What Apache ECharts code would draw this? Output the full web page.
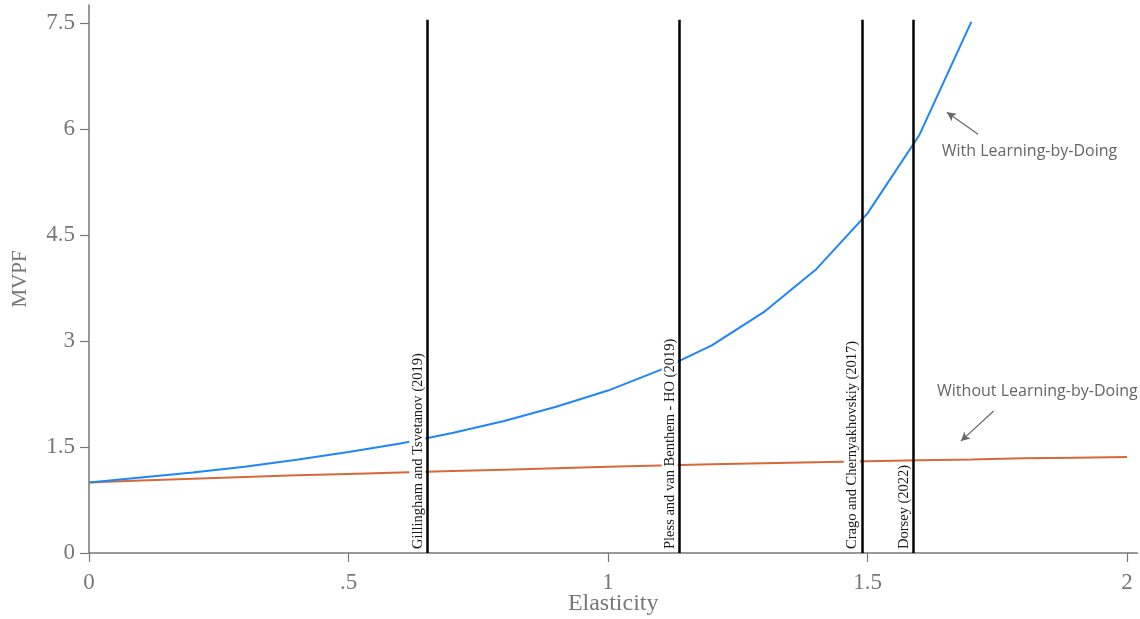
<!DOCTYPE html>
<html><head><meta charset="utf-8">
<script src="https://cdn.jsdelivr.net/npm/echarts@6/dist/echarts.min.js"></script>
<style>html,body{margin:0;padding:0;background:#fff}#c{width:1140px;height:619px}</style>
</head><body><div id="c"></div>
<script>
const elasticity = [0,0.1,0.2,0.3,0.4,0.5,0.6,0.7,0.8,0.9,1.0,1.1,1.2,1.3,1.4,1.5,1.6,1.7];
const mvpfWithLBD = [1.0,1.07,1.14,1.22,1.32,1.43,1.55,1.70,1.87,2.07,2.30,2.59,2.94,3.41,4.01,4.81,5.92,7.52];
const elasticityNoLBD = [0,0.1,0.2,0.3,0.4,0.5,0.6,0.7,0.8,0.9,1.0,1.1,1.2,1.3,1.4,1.5,1.6,1.7,1.8,1.9,2.0];
const mvpfWithoutLBD = [1.0,1.025,1.05,1.075,1.10,1.12,1.14,1.16,1.18,1.20,1.22,1.24,1.255,1.27,1.285,1.30,1.315,1.325,1.34,1.35,1.36];
const studyNames = ['Gillingham and Tsvetanov (2019)','Pless and van Benthem - HO (2019)','Crago and Chernyakhovskiy (2017)','Dorsey (2022)'];
const studyElasticities = [0.652, 1.138, 1.489, 1.589];
const xTicks = [0,0.5,1,1.5,2];
const xTickLabels = ['0','.5','1','1.5','2'];
const yTicks = [0,1.5,3,4.5,6,7.5];
const yTickLabels = ['0','1.5','3','4.5','6','7.5'];
const studyLineTop = 7.55;
const annotations = [
  {text:'With Learning-by-Doing', at:[1.643,5.69], from:[1.713,5.93], to:[1.653,6.24]},
  {text:'Without Learning-by-Doing', at:[1.634,2.29], from:[1.743,2.01], to:[1.680,1.585]}
];

const serif = '"Liberation Serif", "DejaVu Serif", serif';
const grey = '#777';
const chart = echarts.init(document.getElementById('c'));
chart.setOption({
  animation:false,
  grid:{left:89,right:2.6,top:5,bottom:66,containLabel:false,outerBoundsMode:'none'},
  xAxis:{type:'value',min:0,max:2.02,
    name:'Elasticity',nameLocation:'middle',nameGap:51,nameMoveOverlap:false,
    nameTextStyle:{fontFamily:serif,fontSize:24,color:grey,verticalAlign:'middle'},
    axisLine:{show:true,lineStyle:{color:grey,width:1.5}},
    axisTick:{show:true,length:9,lineStyle:{color:grey,width:1.2},customValues:xTicks},
    axisLabel:{customValues:xTicks,margin:18,fontFamily:serif,fontSize:23,color:grey,
      formatter:v=>{const i=xTicks.findIndex(t=>Math.abs(t-v)<1e-9);return i>=0?xTickLabels[i]:'';}},
    splitLine:{show:false}},
  yAxis:{type:'value',min:0,max:7.76,
    name:'MVPF',nameLocation:'middle',nameGap:58,
    nameTextStyle:{fontFamily:serif,fontSize:21,color:grey},
    axisLine:{show:true,lineStyle:{color:grey,width:1.5}},
    axisTick:{show:true,length:9,lineStyle:{color:grey,width:1.2},customValues:yTicks},
    axisLabel:{customValues:yTicks,margin:14,fontFamily:serif,fontSize:23,color:grey,
      formatter:v=>{const i=yTicks.findIndex(t=>Math.abs(t-v)<1e-9);return i>=0?yTickLabels[i]:'';}},
    splitLine:{show:false}},
  series:[
    {type:'line',name:'Without',data:elasticityNoLBD.map((x,i)=>[x,mvpfWithoutLBD[i]]),
      showSymbol:false,lineStyle:{color:'#D5693C',width:2},z:2},
    {type:'line',name:'With',data:elasticity.map((x,i)=>[x,mvpfWithLBD[i]]),
      showSymbol:false,lineStyle:{color:'#1E86FA',width:2},z:3},
    {type:'line',name:'studies',data:[],z:10,
      markLine:{silent:true,symbol:['none','none'],animation:false,
        lineStyle:{color:'#000',width:2.5,type:'solid'},
        data:studyNames.map((n,i)=>[
          {coord:[studyElasticities[i],0],
           label:{show:true,formatter:n,position:'insideStartTop',distance:[3,2],
             fontFamily:serif,fontSize:14.5,color:'#1a1a1a',backgroundColor:'#fff',padding:[1,1,0,1]}},
          {coord:[studyElasticities[i],studyLineTop]}])}},
    {type:'line',name:'annotations',data:[],z:11,
      markLine:{silent:true,symbol:['none','arrow'],symbolSize:[7,9],animation:false,
        lineStyle:{color:'#666',width:1.2,type:'solid'},label:{show:false},
        data:annotations.map(a=>[{coord:a.from},{coord:a.to}])},
      markPoint:{silent:true,symbol:'circle',symbolSize:0,
        label:{show:true,position:'right',distance:0,fontFamily:'"Open Sans", sans-serif',fontSize:16,color:'#666'},
        data:annotations.map(a=>({coord:a.at,label:{formatter:a.text}}))}}
  ]
});
</script></body></html>
